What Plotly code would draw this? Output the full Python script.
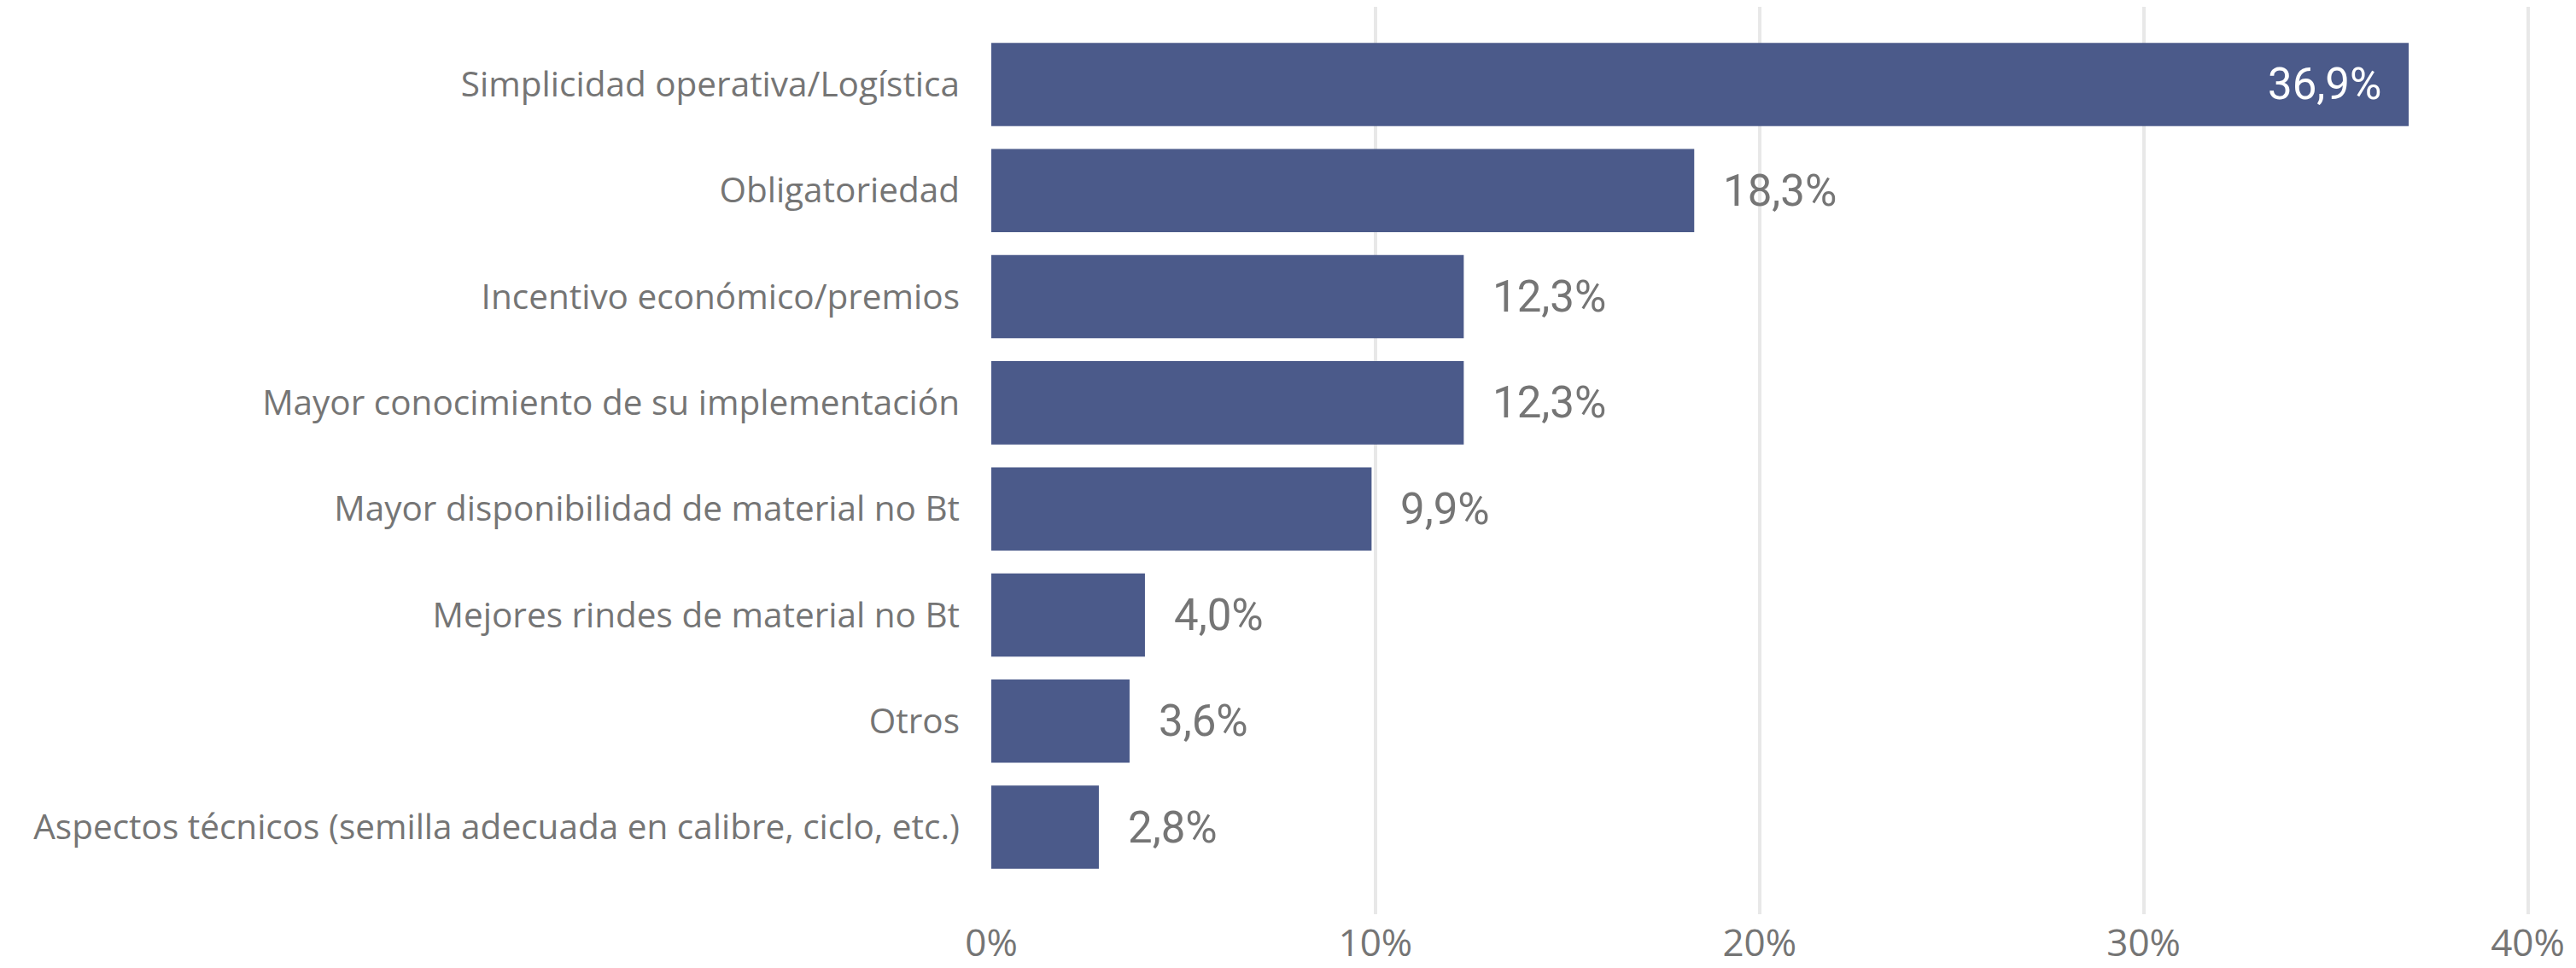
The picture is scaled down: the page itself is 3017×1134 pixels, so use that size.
import plotly.graph_objects as go

# top to bottom as shown
categories = [
    'Simplicidad operativa/Logística',
    'Obligatoriedad',
    'Incentivo económico/premios',
    'Mayor conocimiento de su implementación',
    'Mayor disponibilidad de material no Bt',
    'Mejores rindes de material no Bt',
    'Otros',
    'Aspectos técnicos (semilla adecuada en calibre, ciclo, etc.)',
]
values = [36.9, 18.3, 12.3, 12.3, 9.9, 4.0, 3.6, 2.8]
x_ticks = [0, 0.1, 0.2, 0.3, 0.4]

BAR = '#4B5A8A'
GREY = '#757575'

shares = [v / 100 for v in values]
labels = [f'{v:.1f}'.replace('.', ',') + '%' for v in values]

fig = go.Figure(go.Bar(
    x=shares, y=categories, orientation='h',
    marker=dict(color=BAR, line=dict(width=0)),
    hoverinfo='skip',
))

# value labels: inside the long bar, outside the rest
for cat, s, lab in zip(categories, shares, labels):
    inside = s > 0.3
    fig.add_annotation(
        x=s, y=cat, text=lab, showarrow=False,
        xanchor='right' if inside else 'left',
        xshift=-30 if inside else 32,
        font=dict(family='Roboto', size=51, weight=400,
                  color='white' if inside else GREY),
    )

# page body adds 8px offset, margins compensate
fig.update_layout(
    width=3017, height=1134,
    margin=dict(l=1153, r=59.5, t=0, b=71, autoexpand=False),
    paper_bgcolor='white', plot_bgcolor='white',
    bargap=0.215, showlegend=False,
    font=dict(family='Open Sans', color=GREY),
)
fig.update_xaxes(
    range=[0, 0.401], tickvals=x_ticks, tickformat='.0%',
    showgrid=True, gridcolor='#E8E8E8', gridwidth=4,
    zeroline=False, showline=False, ticks='', automargin=False,
    tickfont=dict(family='Open Sans', size=44, color=GREY),
    ticklabelstandoff=4,
)
fig.update_yaxes(
    categoryorder='array', categoryarray=categories[::-1],
    range=[-0.82, 7.732], automargin=False,
    showgrid=False, zeroline=False, showline=False, ticks='',
    tickfont=dict(family='Open Sans', size=40.5, color=GREY),
    ticklabelstandoff=36,
)

fig.write_html('out.html')
